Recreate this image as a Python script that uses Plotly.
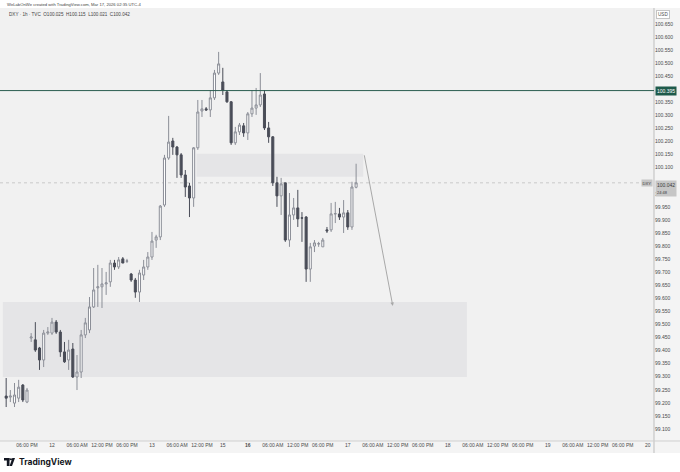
import plotly.graph_objects as go

# ---------------- data (DXY 1h, trading-hour bar index; 0 = Mar 12 00:00) ----------------
bar_index = list(range(-11, 74))
opens = [99.226, 99.222, 99.199, 99.218, 99.268, 99.203,
         99.448, 99.441, 99.410, 99.364, 99.467, 99.467, 99.509, 99.471, 99.395, 99.364,
         99.406, 99.299, 99.318, 99.460, 99.479, 99.567, 99.640, 99.644, 99.655, 99.663,
         99.735, 99.720, 99.751, 99.742, 99.693, 99.670, 99.624, 99.689, 99.720, 99.758,
         99.823, 99.835, 99.957, 100.137, 100.202, 100.179, 100.149, 100.072, 100.030, 99.984,
         100.176, 100.317, 100.325, 100.321, 100.367, 100.462, 100.428, 100.390, 100.352, 100.195,
         100.237, 100.260, 100.233, 100.306, 100.328, 100.340, 100.382, 100.252, 100.218, 100.042,
         99.992, 100.042, 99.823, 99.919, 99.946, 99.908, 99.911, 99.712, 99.800, 99.808,
         99.797, 99.862, 99.862, 99.923, 99.923, 99.911, 99.927, 99.873, 100.025]
highs = [99.295, 99.249, 99.276, 99.288, 99.272, 99.257,
         99.467, 99.509, 99.414, 99.479, 99.490, 99.525, 99.517, 99.479, 99.433, 99.441,
         99.429, 99.383, 99.479, 99.525, 99.605, 99.716, 99.728, 99.716, 99.701, 99.747,
         99.747, 99.758, 99.758, 99.751, 99.697, 99.678, 99.709, 99.747, 99.777, 99.854,
         99.843, 99.957, 100.149, 100.298, 100.214, 100.183, 100.156, 100.091, 100.042, 100.179,
         100.359, 100.359, 100.332, 100.397, 100.474, 100.543, 100.482, 100.397, 100.355, 100.256,
         100.271, 100.271, 100.313, 100.397, 100.405, 100.462, 100.397, 100.275, 100.221, 100.065,
         100.061, 100.042, 100.003, 99.984, 100.015, 99.930, 99.915, 99.812, 99.823, 99.816,
         99.831, 99.873, 99.965, 99.969, 99.946, 99.976, 99.938, 100.046, 100.115]
lows = [99.184, 99.203, 99.184, 99.203, 99.203, 99.199,
        99.433, 99.395, 99.326, 99.337, 99.460, 99.460, 99.464, 99.376, 99.353, 99.326,
        99.295, 99.249, 99.295, 99.448, 99.467, 99.563, 99.567, 99.563, 99.613, 99.644,
        99.709, 99.712, 99.735, 99.735, 99.663, 99.602, 99.586, 99.670, 99.709, 99.747,
        99.793, 99.823, 99.950, 100.130, 100.149, 100.061, 100.061, 99.988, 99.911, 99.950,
        100.168, 100.294, 100.317, 100.294, 100.359, 100.455, 100.378, 100.348, 100.187, 100.187,
        100.225, 100.218, 100.206, 100.294, 100.302, 100.332, 100.244, 100.195, 100.030, 99.950,
        99.919, 99.816, 99.797, 99.900, 99.873, 99.816, 99.663, 99.663, 99.777, 99.797,
        99.797, 99.850, 99.854, 99.888, 99.900, 99.850, 99.862, 99.862, 100.021]
closes = [99.218, 99.226, 99.230, 99.260, 99.211, 99.249,
          99.452, 99.402, 99.364, 99.467, 99.471, 99.509, 99.471, 99.395, 99.357, 99.402,
          99.299, 99.318, 99.460, 99.506, 99.567, 99.632, 99.644, 99.655, 99.659, 99.735,
          99.720, 99.747, 99.735, 99.743, 99.670, 99.624, 99.697, 99.720, 99.758, 99.819,
          99.835, 99.953, 100.137, 100.198, 100.179, 100.149, 100.072, 100.026, 99.984, 100.176,
          100.313, 100.325, 100.321, 100.367, 100.462, 100.497, 100.397, 100.352, 100.195, 100.237,
          100.263, 100.233, 100.306, 100.328, 100.340, 100.378, 100.252, 100.218, 100.042, 99.992,
          100.038, 99.823, 99.919, 99.946, 99.904, 99.907, 99.712, 99.797, 99.812, 99.809,
          99.823, 99.858, 99.923, 99.924, 99.911, 99.927, 99.873, 100.026, 100.042]

time_tick_index = [-6, 0, 6, 12, 18, 24, 30, 36, 41, 47, 53, 59, 65, 71, 77, 83, 89,
                   95, 101, 107, 113, 119, 125, 131, 137, 143]
time_tick_text = ["06:00 PM", "12", "06:00 AM", "12:00 PM", "06:00 PM", "13", "06:00 AM",
                  "12:00 PM", "15", "<b>16</b>", "06:00 AM", "12:00 PM", "06:00 PM", "17",
                  "06:00 AM", "12:00 PM", "06:00 PM", "18", "06:00 AM", "12:00 PM",
                  "06:00 PM", "19", "06:00 AM", "12:00 PM", "06:00 PM", "20"]
price_ticks = [99.10, 99.15, 99.20, 99.25, 99.30, 99.35, 99.40, 99.45, 99.50, 99.55,
               99.60, 99.65, 99.70, 99.75, 99.80, 99.85, 99.90, 99.95, 100.00,
               100.10, 100.15, 100.20, 100.25, 100.30, 100.35,
               100.45, 100.50, 100.55, 100.60, 100.65]
price_tick_text = [f"{v:.3f}" for v in price_ticks]

level_price = 100.395
last_price = 100.042
upper_zone = dict(start=34.7, end=74.7, top=100.153, bottom=100.065)
lower_zone = dict(start=-11.8, end=99.6, top=99.586, bottom=99.299)
arrow_from = (74.9, 100.153)
arrow_to = (81.8, 99.571)

# ---------------- layout helpers (pixel -> paper) ----------------
W, H = 680, 472
PL, PR, PT, PB = 0, 654, 8, 441
PWID, PHGT = PR - PL, PB - PT


def fx(px):
    return (px - PL) / PWID


def fy(py):
    return (PB - py) / PHGT


FONT = "Liberation Sans, Arial, sans-serif"
AX_TXT = "#4a4a4a"

fig = go.Figure()
fig.add_trace(go.Candlestick(
    x=bar_index, open=opens, high=highs, low=lows, close=closes,
    increasing=dict(fillcolor="#ffffff", line=dict(color="#8b8e97", width=1)),
    decreasing=dict(fillcolor="#4a4d58", line=dict(color="#4a4d58", width=1)),
    whiskerwidth=0, hoverinfo="skip", showlegend=False,
))

shapes = []
# axis backgrounds and borders
shapes.append(dict(type="rect", xref="paper", yref="paper", x0=fx(PR), x1=fx(W), y0=fy(453), y1=fy(PT),
                   fillcolor="#f4f4f4", line=dict(width=0), layer="below"))
shapes.append(dict(type="rect", xref="paper", yref="paper", x0=fx(0), x1=fx(PR), y0=fy(453), y1=fy(PB),
                   fillcolor="#f4f4f4", line=dict(width=0), layer="below"))
shapes.append(dict(type="line", xref="paper", yref="paper", x0=fx(PR), x1=fx(PR), y0=fy(453), y1=fy(PT),
                   line=dict(color="#bdbdbd", width=1)))
shapes.append(dict(type="line", xref="paper", yref="paper", x0=fx(0), x1=fx(W), y0=fy(PB), y1=fy(PB),
                   line=dict(color="#cfcfcf", width=1)))
# zones
for z in (lower_zone, upper_zone):
    shapes.append(dict(type="rect", xref="x", yref="y", x0=z["start"], x1=z["end"],
                       y0=z["bottom"], y1=z["top"], fillcolor="#e5e5e7",
                       line=dict(width=0), layer="below"))
# horizontal level and price line
shapes.append(dict(type="line", xref="paper", yref="y", x0=0, x1=1, y0=level_price, y1=level_price,
                   line=dict(color="#2a5d50", width=1)))
shapes.append(dict(type="line", xref="paper", yref="y", x0=0, x1=1, y0=last_price, y1=last_price,
                   line=dict(color="#cacaca", width=1, dash="dot"), layer="below"))

# TradingView logo (approximate glyph)
shapes.append(dict(type="rect", xref="paper", yref="paper", x0=fx(4), x1=fx(9.5), y0=fy(460.5), y1=fy(458),
                   fillcolor="#131722", line=dict(width=0)))
shapes.append(dict(type="rect", xref="paper", yref="paper", x0=fx(6.8), x1=fx(9.5), y0=fy(466), y1=fy(458),
                   fillcolor="#131722", line=dict(width=0)))
shapes.append(dict(type="circle", xref="paper", yref="paper", x0=fx(9.9), x1=fx(12), y0=fy(460.3), y1=fy(458.2),
                   fillcolor="#131722", line=dict(width=0)))
shapes.append(dict(type="path", xref="paper", yref="paper",
                   path=f"M {fx(12.3)} {fy(458)} L {fx(15)} {fy(458)} L {fx(12)} {fy(466)} L {fx(9.6)} {fy(466)} Z",
                   fillcolor="#131722", line=dict(width=0)))

annotations = []
annotations.append(dict(x=arrow_to[0], y=arrow_to[1], xref="x", yref="y", ax=arrow_from[0], ay=arrow_from[1],
                        axref="x", ayref="y", text="", showarrow=True, arrowhead=2, arrowsize=0.7,
                        arrowwidth=1, arrowcolor="#a8a8a8"))
annotations.append(dict(x=fx(5), y=fy(4.5), xref="paper", yref="paper", xanchor="left", yanchor="middle",
                        text="WeLabOnWe created with TradingView.com, Mar 17, 2026 02:35 UTC-4",
                        showarrow=False, font=dict(family=FONT, size=4.2, color="#444")))
annotations.append(dict(x=fx(7), y=fy(15), xref="paper", yref="paper", xanchor="left", yanchor="middle",
                        text="DXY · 1h · TVC  O100.025  H100.115  L100.021  C100.042",
                        showarrow=False, font=dict(family=FONT, size=4.6, color="#444")))
annotations.append(dict(x=fx(17), y=fy(462), xref="paper", yref="paper", xanchor="left", yanchor="middle",
                        text="<b>TradingView</b>", showarrow=False,
                        font=dict(family="Inter, Liberation Sans, sans-serif", size=8.5, color="#131722")))
annotations.append(dict(x=fx(656), y=fy(14), xref="paper", yref="paper", xanchor="left", yanchor="middle",
                        text="USD", showarrow=False, bgcolor="#ffffff", bordercolor="#c4c4c4", borderwidth=1,
                        borderpad=1, font=dict(family=FONT, size=4.6, color=AX_TXT)))
annotations.append(dict(x=fx(655), y=level_price, xref="paper", yref="y", xanchor="left", yanchor="middle",
                        text="100.395", showarrow=False, bgcolor="#1f5b4b", borderpad=1,
                        font=dict(family=FONT, size=5, color="#ffffff")))
annotations.append(dict(x=fx(655), y=last_price, xref="paper", yref="y", xanchor="left", yanchor="top",
                        yshift=2.5, text="100.042<br><span style='font-size:4px'>24:48</span>",
                        showarrow=False, bgcolor="#c6c6c6", borderpad=1, align="left",
                        font=dict(family=FONT, size=5, color="#3a3a3a")))
annotations.append(dict(x=fx(653), y=last_price, xref="paper", yref="y", xanchor="right", yanchor="middle",
                        text="DXY", showarrow=False, bgcolor="#c6c6c6", borderpad=0.5,
                        font=dict(family=FONT, size=4.2, color="#3a3a3a")))

fig.update_layout(
    width=W, height=H,
    margin=dict(l=PL, r=W - PR, t=PT, b=H - PB, pad=0),
    paper_bgcolor="#ffffff", plot_bgcolor="#f1f1f1",
    showlegend=False,
    shapes=shapes, annotations=annotations,
    xaxis=dict(range=[-12.48, 144.5], tickvals=time_tick_index, ticktext=time_tick_text,
               showgrid=False, zeroline=False, showline=False, ticks="",
               tickfont=dict(family=FONT, size=5, color=AX_TXT), rangeslider=dict(visible=False),
               fixedrange=True, automargin=False),
    yaxis=dict(range=[99.054, 100.711], side="right", tickvals=price_ticks, ticktext=price_tick_text,
               showgrid=False, zeroline=False, showline=False, ticks="",
               tickfont=dict(family=FONT, size=5, color=AX_TXT), fixedrange=True, automargin=False),
)

fig.write_html("out.html", config={"displayModeBar": False},
               post_script="document.body.style.margin='0';document.body.style.padding='0';")
